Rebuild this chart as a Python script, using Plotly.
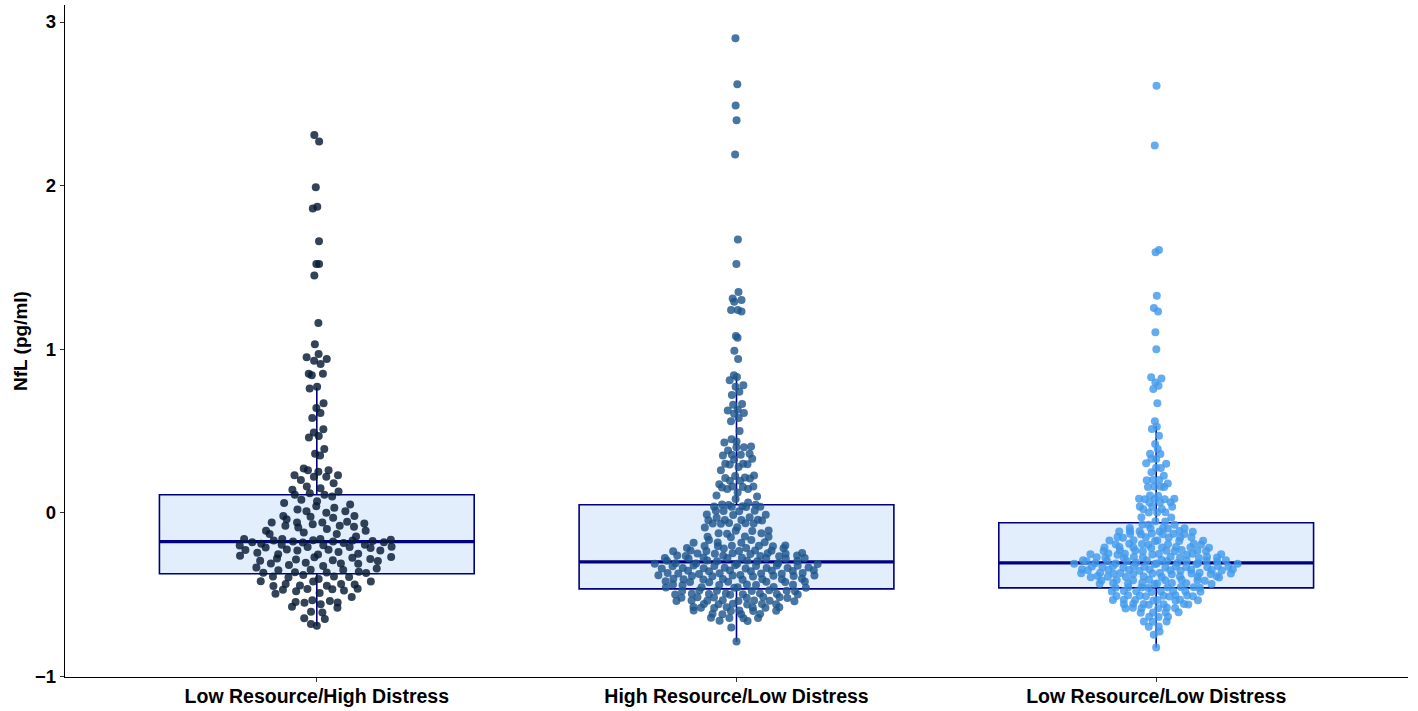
import numpy as np
import plotly.graph_objects as go

categories = ["Low Resource/High Distress", "High Resource/Low Distress", "Low Resource/Low Distress"]

g1 = [2.31, 2.27, 1.99, 1.87, 1.86, 1.66, 1.52, 1.52, 1.45, 1.16, 1.03, 0.97, 0.95, 0.94, 0.93, 0.91, 0.85, 0.85, 0.84, 0.77, 0.76,
      0.67, 0.64, 0.61, 0.58, 0.51, 0.49, 0.47, 0.46, 0.39, 0.36, 0.35,
      0.27, 0.26, 0.26, 0.25, 0.23, 0.22, 0.23, 0.22, 0.20, 0.18, 0.16, 0.15, 0.14, 0.13, 0.12, 0.11, 0.11, 0.10,
      0.07, 0.08, 0.06, 0.05, 0.04, 0.03, 0.02, 0.01, 0.01, 0.00,
      -0.02, -0.02, -0.03, -0.025, -0.04, -0.06, -0.06, -0.055, -0.06, -0.065, -0.07, -0.08, -0.08, -0.085, -0.09,
      -0.10, -0.11, -0.11, -0.12, -0.13, -0.13, -0.145,
      -0.16, -0.16, -0.165, -0.16, -0.17, -0.175, -0.17, -0.168, -0.172, -0.176, -0.18, -0.185, -0.182, -0.18,
      -0.195, -0.20, -0.19, -0.196, -0.198, -0.21, -0.215, -0.21, -0.212, -0.208, -0.228, -0.23, -0.225, -0.23, -0.226,
      -0.24, -0.245, -0.25, -0.255, -0.253, -0.263, -0.27, -0.275, -0.272, -0.28, -0.285, -0.283, -0.29, -0.295, -0.294,
      -0.31, -0.31, -0.305, -0.312, -0.32, -0.325, -0.335, -0.34, -0.35, -0.348, -0.352, -0.36, -0.365, -0.366, -0.364,
      -0.368, -0.38, -0.39, -0.39, -0.392, -0.395, -0.405, -0.42, -0.42, -0.418, -0.435, -0.436, -0.438, -0.445, -0.446,
      -0.448, -0.465, -0.468, -0.466, -0.47, -0.475, -0.48, -0.49, -0.495, -0.515, -0.535, -0.54, -0.545, -0.55, -0.548,
      -0.56, -0.58, -0.575, -0.61, -0.605, -0.65, -0.645, -0.68, -0.69]

g2 = [2.90, 2.62, 2.49, 2.40, 2.19, 1.67, 1.52, 1.35, 1.31, 1.30, 1.29, 1.24, 1.24, 1.23, 1.08, 1.07, 0.99, 0.94,
      0.84, 0.83, 0.81, 0.78, 0.77, 0.74, 0.72,
      0.665, 0.66, 0.63, 0.625, 0.61, 0.605, 0.58, 0.56, 0.50, 0.45, 0.435, 0.43, 0.405, 0.40, 0.40, 0.38,
      0.355, 0.355, 0.35, 0.36, 0.33, 0.325, 0.30, 0.295, 0.30, 0.297, 0.28, 0.26, 0.225, 0.228, 0.21, 0.215, 0.212,
      0.196, 0.195, 0.175, 0.16, 0.16, 0.158, 0.155, 0.145, 0.146, 0.124, 0.105, 0.10, 0.084, 0.063, 0.05, 0.048,
      0.049, 0.037, 0.036, 0.04, 0.035, 0.038, 0.012, 0.013, 0.01, 0.011, -0.012, -0.01, -0.014, -0.03, -0.028,
      -0.045, -0.044, -0.046, -0.047, -0.043, -0.065, -0.066, -0.064, -0.063, -0.067,
      -0.09, -0.088, -0.11, -0.112, -0.108, -0.126, -0.125, -0.128,
      -0.147, -0.146, -0.149, -0.145, -0.167, -0.166, -0.182, -0.181, -0.184, -0.183,
      -0.202, -0.201, -0.203, -0.200, -0.204, -0.205, -0.216, -0.215, -0.218, -0.217,
      -0.232, -0.231, -0.233, -0.230, -0.234, -0.235,
      -0.249, -0.248, -0.250, -0.247, -0.251, -0.246, -0.252,
      -0.263, -0.262, -0.264, -0.261, -0.265, -0.266,
      -0.277, -0.276, -0.278, -0.275, -0.279, -0.274, -0.280, -0.277,
      -0.294, -0.293, -0.295, -0.292, -0.296, -0.297,
      -0.310, -0.309, -0.311, -0.308, -0.312, -0.313,
      -0.324, -0.323, -0.325, -0.322, -0.326, -0.321, -0.327,
      -0.338, -0.337, -0.339, -0.336, -0.340, -0.335, -0.341, -0.338,
      -0.355, -0.354, -0.356, -0.353, -0.357, -0.352, -0.358,
      -0.371, -0.370, -0.372, -0.369, -0.373, -0.368, -0.374,
      -0.385, -0.384, -0.386, -0.383, -0.387, -0.382, -0.388, -0.381, -0.389,
      -0.406, -0.405, -0.407, -0.404, -0.408, -0.403, -0.409, -0.406,
      -0.422, -0.421, -0.423, -0.420, -0.424, -0.419, -0.425,
      -0.440, -0.439, -0.441, -0.438, -0.442, -0.443,
      -0.457, -0.456, -0.458, -0.455, -0.459, -0.454,
      -0.477, -0.476, -0.478, -0.475, -0.479, -0.474, -0.480,
      -0.497, -0.496, -0.498, -0.495, -0.499, -0.494, -0.500, -0.493, -0.501,
      -0.518, -0.517, -0.519, -0.516, -0.520, -0.515, -0.521,
      -0.538, -0.537, -0.539, -0.536, -0.540, -0.535, -0.541, -0.538,
      -0.559, -0.558, -0.560, -0.557, -0.561, -0.556,
      -0.579, -0.578, -0.580, -0.577, -0.581, -0.576, -0.582,
      -0.599, -0.598, -0.600, -0.597, -0.601,
      -0.620, -0.619, -0.621, -0.618,
      -0.644, -0.643, -0.645, -0.642,
      -0.661, -0.660, -0.702, -0.787]

g3 = [2.61, 2.245, 1.607, 1.592, 1.327, 1.252, 1.231, 1.103, 0.999, 0.828, 0.82, 0.797, 0.777, 0.757, 0.67,
      0.559, 0.526, 0.512, 0.471, 0.42, 0.39, 0.359, 0.36, 0.328, 0.33, 0.302, 0.30, 0.273, 0.275, 0.247, 0.226,
      0.20, 0.199, 0.201, 0.179, 0.159, 0.16, 0.158, 0.157, 0.104, 0.105, 0.084, 0.085, 0.083, 0.086, 0.082,
      0.063, 0.064, 0.062, 0.037, 0.038, 0.036, 0.022, 0.023, 0.002, 0.003, 0.001,
      -0.029, -0.028, -0.053, -0.052, -0.073, -0.072, -0.074,
      -0.094, -0.093, -0.095, -0.092, -0.096,
      -0.114, -0.113, -0.115, -0.112, -0.116, -0.111,
      -0.130, -0.129, -0.131, -0.128, -0.132, -0.127,
      -0.151, -0.150, -0.152, -0.149, -0.153, -0.148,
      -0.171, -0.170, -0.172, -0.169, -0.173, -0.168,
      -0.192, -0.191, -0.193, -0.190, -0.194, -0.189, -0.195,
      -0.212, -0.211, -0.213, -0.210, -0.214, -0.209, -0.215, -0.212,
      -0.232, -0.231, -0.233, -0.230, -0.234, -0.229, -0.235, -0.228, -0.236,
      -0.253, -0.252, -0.254, -0.251, -0.255, -0.250, -0.256, -0.249, -0.257,
      -0.273, -0.272, -0.274, -0.271, -0.275, -0.270, -0.276, -0.269, -0.277, -0.273,
      -0.294, -0.293, -0.295, -0.292, -0.296, -0.291, -0.297, -0.290, -0.298, -0.289, -0.294,
      -0.310, -0.309, -0.311, -0.308, -0.312, -0.307, -0.313, -0.306, -0.314, -0.310,
      -0.330, -0.329, -0.331, -0.328, -0.332, -0.327, -0.333, -0.326, -0.334, -0.325, -0.335, -0.330,
      -0.350, -0.349, -0.351, -0.348, -0.352, -0.347, -0.353, -0.346, -0.354, -0.345, -0.355, -0.350,
      -0.371, -0.370, -0.372, -0.369, -0.373, -0.368, -0.374, -0.367, -0.375, -0.366, -0.376, -0.371,
      -0.391, -0.390, -0.392, -0.389, -0.393, -0.388, -0.394, -0.387, -0.395, -0.391,
      -0.412, -0.411, -0.413, -0.410, -0.414, -0.409, -0.415, -0.412,
      -0.432, -0.431, -0.433, -0.430, -0.434, -0.429, -0.435, -0.428, -0.436,
      -0.457, -0.456, -0.458, -0.455, -0.459, -0.454, -0.460, -0.457,
      -0.481, -0.480, -0.482, -0.479, -0.483, -0.478, -0.484, -0.481,
      -0.508, -0.507, -0.509, -0.506, -0.510, -0.505, -0.511, -0.504, -0.512,
      -0.534, -0.533, -0.535, -0.532, -0.536, -0.531, -0.537, -0.534,
      -0.559, -0.558, -0.560, -0.557, -0.561, -0.556, -0.562,
      -0.583, -0.582, -0.584, -0.581, -0.585, -0.580,
      -0.610, -0.609, -0.611, -0.608,
      -0.636, -0.635, -0.637,
      -0.665, -0.664, -0.666,
      -0.697, -0.696,
      -0.726, -0.746, -0.824]

groups = [g1, g2, g3]

# box statistics
q1 = [-0.373, -0.465, -0.459]
median = [-0.177, -0.300, -0.306]
q3 = [0.110, 0.049, -0.061]
lowerfence = [-0.690, -0.787, -0.824]
upperfence = [0.766, 0.830, 0.530]

point_colors = ["#061b35", "#20578e", "#429aeb"]
BOX_W = 0.75
SWARM_W = 0.2


def van_der_corput(n, base=2):
    out = []
    for i in range(1, n + 1):
        v, denom, k = 0.0, 1.0, i
        while k > 0:
            denom *= base
            k, rem = divmod(k, base)
            v += rem / denom
        out.append(v)
    return np.array(out)


def quasirandom_offsets(y, width=SWARM_W, adjust=0.5):
    y = np.asarray(y, dtype=float)
    n = len(y)
    sd = np.std(y, ddof=1)
    iqr = np.subtract(*np.percentile(y, [75, 25]))
    lo = min(sd, iqr / 1.34) if iqr > 0 else sd
    bw = 0.9 * lo * n ** (-0.2) * adjust
    grid = np.linspace(y.min() - 3 * bw, y.max() + 3 * bw, 512)
    def dens(pts):
        return np.exp(-0.5 * ((pts[:, None] - y[None, :]) / bw) ** 2).sum(axis=1)
    dmax = dens(grid).max()
    d = dens(y) / dmax
    order = np.argsort(y, kind="stable")
    ranks = np.empty(n, dtype=int)
    ranks[order] = np.arange(n)
    vdc = van_der_corput(n)
    return (vdc[ranks] - 0.5) * 2 * d * width


fig = go.Figure()

for i in range(3):
    fig.add_trace(go.Box(
        x=[i], q1=[q1[i]], median=[median[i]], q3=[q3[i]],
        lowerfence=[lowerfence[i]], upperfence=[upperfence[i]],
        width=BOX_W, fillcolor="#e3eefc",
        line=dict(color="#000080", width=1.6),
        boxpoints=False, whiskerwidth=0, hoverinfo="skip", showlegend=False,
    ))
    fig.add_trace(go.Scatter(
        x=[i - BOX_W / 2, i + BOX_W / 2], y=[median[i], median[i]],
        mode="lines", line=dict(color="#000080", width=3.2),
        hoverinfo="skip", showlegend=False,
    ))

for i, g in enumerate(groups):
    off = quasirandom_offsets(g)
    fig.add_trace(go.Scatter(
        x=i + off, y=g, mode="markers",
        marker=dict(size=8, color=point_colors[i], opacity=0.82, line=dict(width=0)),
        hoverinfo="y", showlegend=False,
    ))

font_family = "Liberation Sans, Arial, Helvetica, sans-serif"

fig.update_layout(
    width=1418, height=711,
    margin=dict(l=65, r=10, t=5, b=34),
    paper_bgcolor="white", plot_bgcolor="white",
    font=dict(family=font_family, color="black"),
    xaxis=dict(
        range=[-0.6, 2.6], tickvals=[0, 1, 2], ticktext=categories,
        showgrid=False, zeroline=False, showline=True, linecolor="black", linewidth=1.3,
        ticks="outside", ticklen=4, tickcolor="#333333", tickwidth=1,
        ticklabelstandoff=-3,
        tickfont=dict(size=19.5, family=font_family, color="black", weight="bold"),
    ),
    yaxis=dict(
        range=[-1.004, 3.104], tickvals=[-1, 0, 1, 2, 3],
        showgrid=False, zeroline=False, showline=True, linecolor="black", linewidth=1.3,
        ticks="outside", ticklen=4, tickcolor="#333333", tickwidth=1,
        tickfont=dict(size=18.5, family=font_family, color="black", weight="bold"),
    ),
    annotations=[dict(
        text="NfL (pg/ml)", xref="paper", yref="paper", x=-0.0335, y=0.5,
        textangle=-90, showarrow=False, xanchor="center", yanchor="middle",
        font=dict(size=19, family=font_family, color="black", weight="bold"),
    )],
)

fig.write_html("out.html")
